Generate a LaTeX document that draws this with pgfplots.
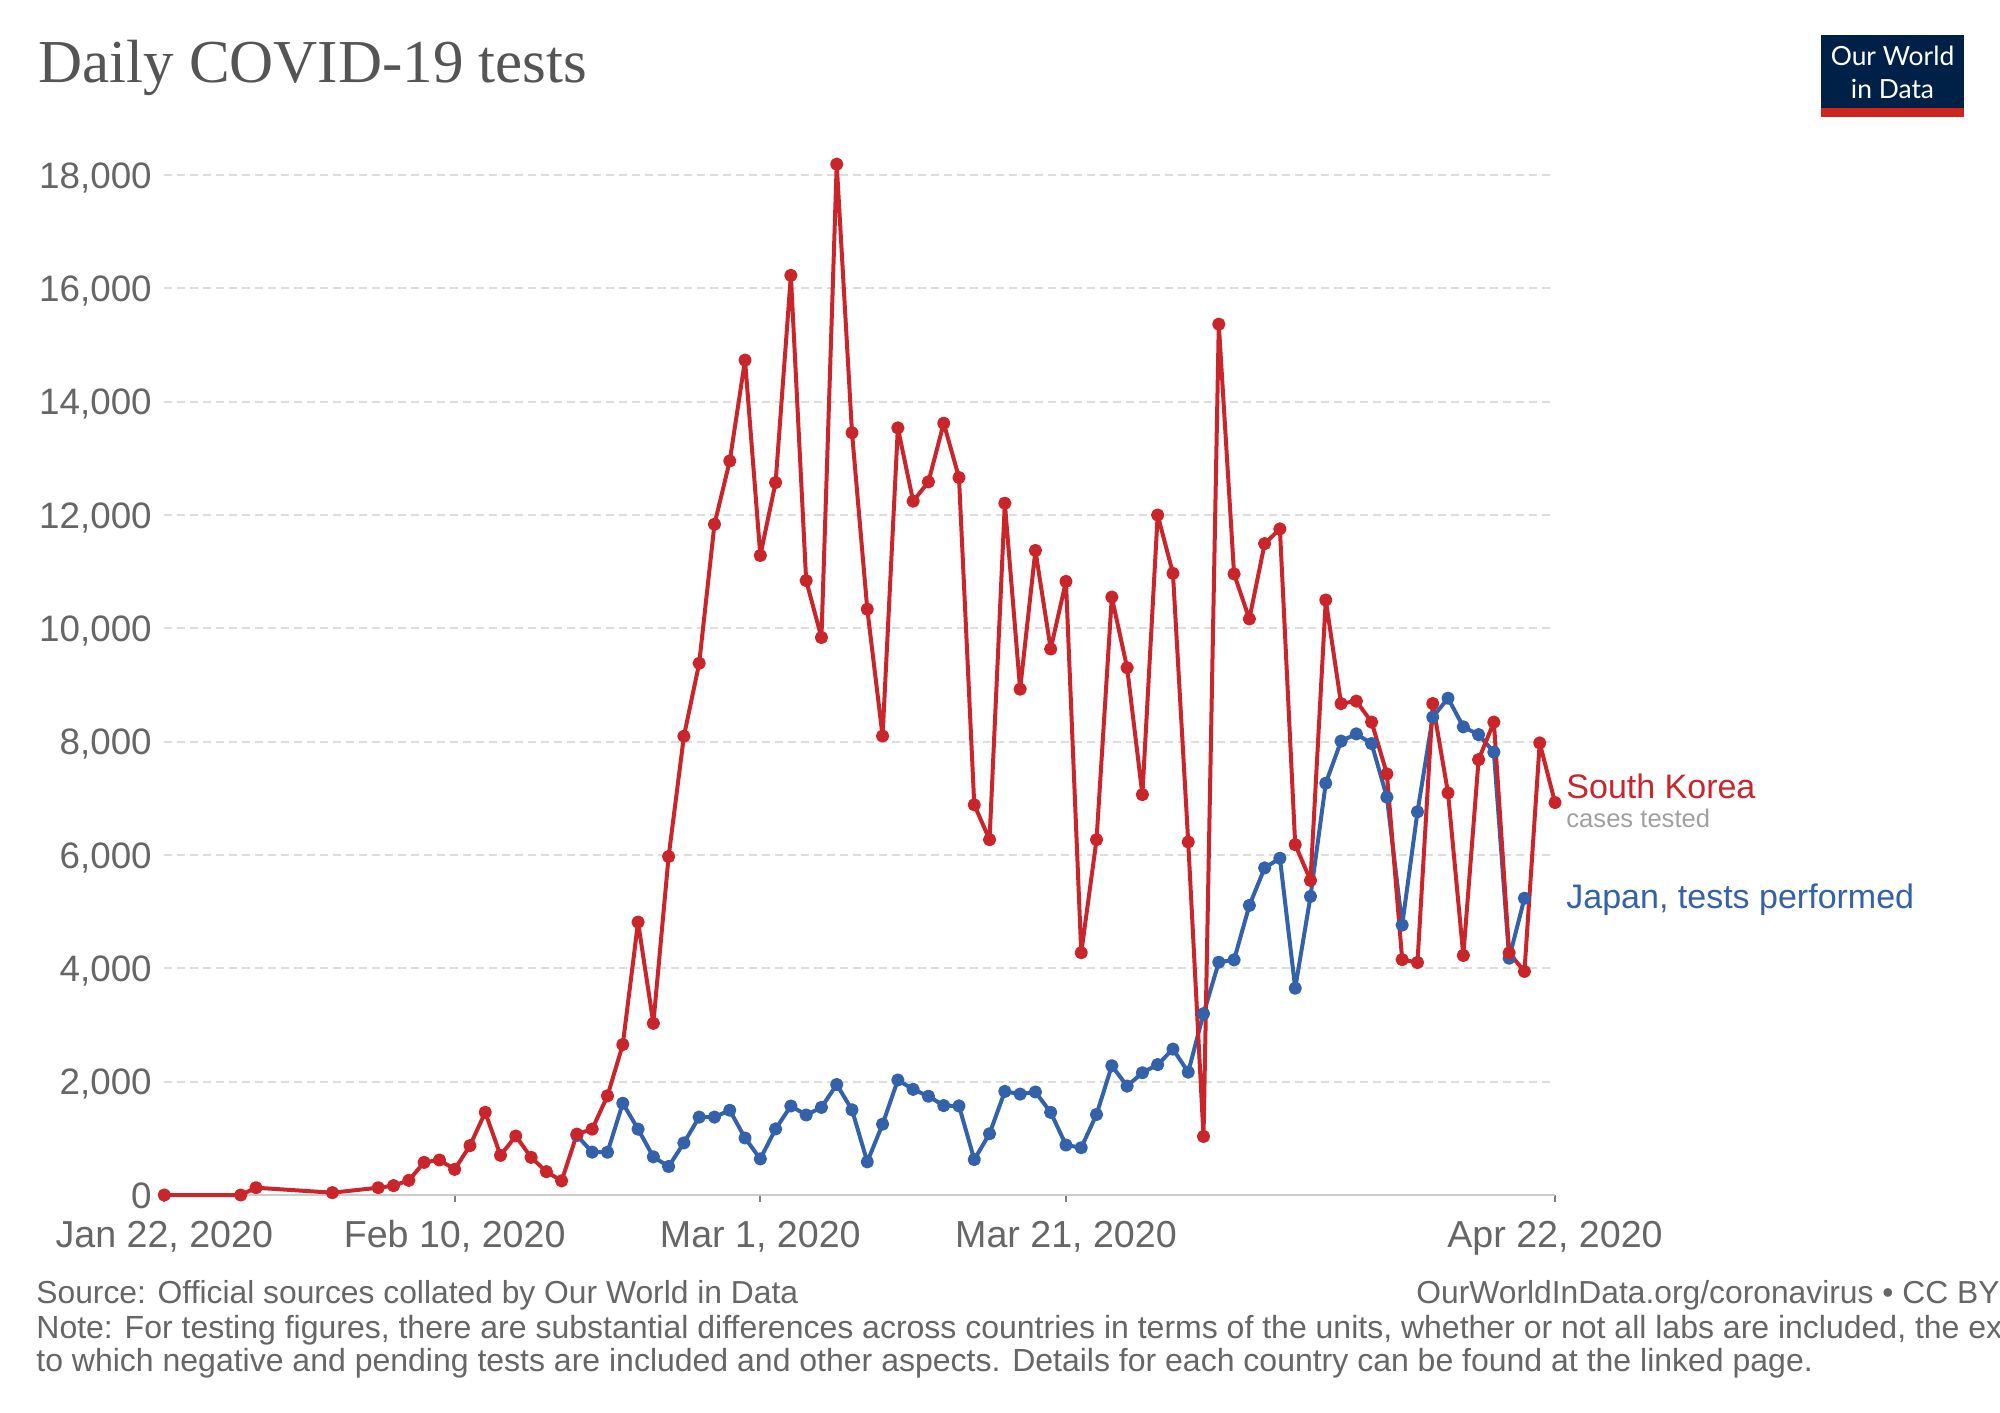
\documentclass[border=0pt]{standalone}
\usepackage{fontspec}
\setmainfont{Liberation Sans}
\newfontfamily\titlefont{Liberation Serif}
\newfontfamily\logofont{Lato}
\usepackage{pgfplots}
\pgfplotsset{compat=1.18}
\definecolor{owidred}{RGB}{203,37,44}
\definecolor{owidblue}{RGB}{51,97,170}
\definecolor{ticktxt}{RGB}{102,102,102}
\definecolor{titlegray}{RGB}{85,85,85}
\definecolor{navy}{RGB}{0,33,71}
\definecolor{logored}{RGB}{206,38,30}
\definecolor{gridgray}{RGB}{221,221,221}
\definecolor{axisgray}{RGB}{204,204,204}
\definecolor{subgray}{RGB}{160,160,160}

\pgfplotstableread{
day value
0 0
5 0
6 129
11 41
14 129
15 165
16 259
17 576
18 618
19 453
20 871
21 1459
22 700
23 1041
24 665
25 412
26 250
27 1075
28 1163
29 1750
30 2655
31 4816
32 3030
33 5973
34 8096
35 9384
36 11837
37 12954
38 14733
39 11286
40 12573
41 16229
42 10843
43 9838
44 18191
45 13452
46 10338
47 8100
48 13537
49 12244
50 12585
51 13620
52 12661
53 6886
54 6271
55 12208
56 8927
57 11374
58 9636
59 10828
60 4276
61 6271
62 10552
63 9305
64 7066
65 12000
66 10970
67 6230
68 1034
69 15368
70 10960
71 10166
72 11495
73 11754
74 6183
75 5552
76 10500
77 8672
78 8716
79 8345
80 7431
81 4154
82 4103
83 8672
84 7096
85 4228
86 7683
87 8345
88 4272
89 3946
90 7978
91 6926
}\korea

\pgfplotstableread{
day value
27 1050
28 757
29 755
30 1620
31 1163
32 674
33 503
34 919
35 1375
36 1375
37 1496
38 1006
39 637
40 1166
41 1571
42 1412
43 1546
44 1950
45 1503
46 585
47 1250
48 2030
49 1865
50 1743
51 1578
52 1572
53 626
54 1082
55 1828
56 1781
57 1818
58 1459
59 882
60 835
61 1421
62 2282
63 1922
64 2158
65 2301
66 2575
67 2168
68 3200
69 4108
70 4150
71 5110
72 5772
73 5943
74 3649
75 5269
76 7267
77 8010
78 8137
79 7966
80 7021
81 4764
82 6762
83 8433
84 8767
85 8262
86 8124
87 7816
88 4179
89 5237
}\japan

\begin{document}
\begin{tikzpicture}
\useasboundingbox (0,0) rectangle (1000pt,-706pt);
\fill[white] (0,0) rectangle (1000pt,-706pt);

% title
\node[anchor=base west, inner sep=0pt, text=titlegray,
      font=\titlefont\fontsize{30.5}{36}\selectfont] at (19pt,-41.35pt) {Daily COVID-19 tests};

% logo
\fill[navy] (910.5pt,-17.5pt) rectangle (982pt,-54pt);
\fill[logored] (910.5pt,-54pt) rectangle (982pt,-58.5pt);
\node[anchor=base, inner sep=0pt, text=white, font=\logofont\fontsize{13.2}{15}\selectfont] at (946.25pt,-32.8pt) {Our World};
\node[anchor=base, inner sep=0pt, text=white, font=\logofont\fontsize{13.2}{15}\selectfont] at (946.25pt,-49.2pt) {in Data};

\begin{axis}[
  at={(82.15pt,-597.5pt)}, anchor=south west, scale only axis,
  width=695.35pt, height=510pt,
  xmin=0, xmax=91, ymin=0, ymax=18000, clip=false,
  axis x line*=bottom, axis y line*=left,
  y axis line style={draw=none},
  x axis line style={axisgray, line width=1.2pt},
  xtick={0,19,39,59,91},
  xticklabels={{Jan 22, 2020},{Feb 10, 2020},{Mar 1, 2020},{Mar 21, 2020},{Apr 22, 2020}},
  ytick={0,2000,4000,6000,8000,10000,12000,14000,16000,18000},
  scaled y ticks=false,
  ymajorgrids,
  grid style={gridgray, line width=0.9pt, dash pattern=on 4pt off 2.5pt},
  ytick style={draw=none},
  xtick style={draw=gray, line width=1pt},
  tick align=outside, major tick length=3.5pt,
  yticklabel style={font=\fontsize{18.4}{22}\selectfont, text=ticktxt, anchor=base east, inner sep=0pt, xshift=-2.6pt, yshift=-6.6pt},
  xticklabel style={font=\fontsize{18.8}{22}\selectfont, text=ticktxt, anchor=base, inner sep=0pt, yshift=-22.5pt},
  /pgf/number format/1000 sep={,},
  /pgf/number format/assume math mode=true,
]
\addplot[owidblue, line width=2pt, line join=round, mark=*, mark size=2.3pt, mark options={solid, fill=owidblue, draw=none}] table[x=day,y=value] {\japan};
\addplot[owidred, line width=2pt, line join=round, mark=*, mark size=2.3pt, mark options={solid, fill=owidred, draw=none}] table[x=day,y=value] {\korea};
\end{axis}

% series labels
\node[anchor=base west, inner sep=0pt, text=owidred, font=\fontsize{17}{20}\selectfont] at (783pt,-399.15pt) {South Korea};
\node[anchor=base west, inner sep=0pt, text=subgray, font=\fontsize{12.8}{15}\selectfont] at (783pt,-413.65pt) {cases tested};
\node[anchor=base west, inner sep=0pt, text=owidblue, font=\fontsize{17}{20}\selectfont] at (783pt,-454.15pt) {Japan, tests performed};

% footer
\node[anchor=base west, inner sep=0pt, text=ticktxt, font=\fontsize{15.9}{18}\selectfont] at (18pt,-651.65pt) {Source: Official sources collated by Our World in Data};
\node[anchor=base west, inner sep=0pt, text=ticktxt, font=\fontsize{15.9}{18}\selectfont] at (708pt,-651.65pt) {OurWorldInData.org/coronavirus • CC BY};
\node[anchor=base west, inner sep=0pt, text=ticktxt, font=\fontsize{16}{18}\selectfont] at (18pt,-669pt) {Note: For testing figures, there are substantial differences across countries in terms of the units, whether or not all labs are included, the extent};
\node[anchor=base west, inner sep=0pt, text=ticktxt, font=\fontsize{16}{18}\selectfont] at (18pt,-685.5pt) {to which negative and pending tests are included and other aspects. Details for each country can be found at the linked page.};
\end{tikzpicture}
\end{document}
